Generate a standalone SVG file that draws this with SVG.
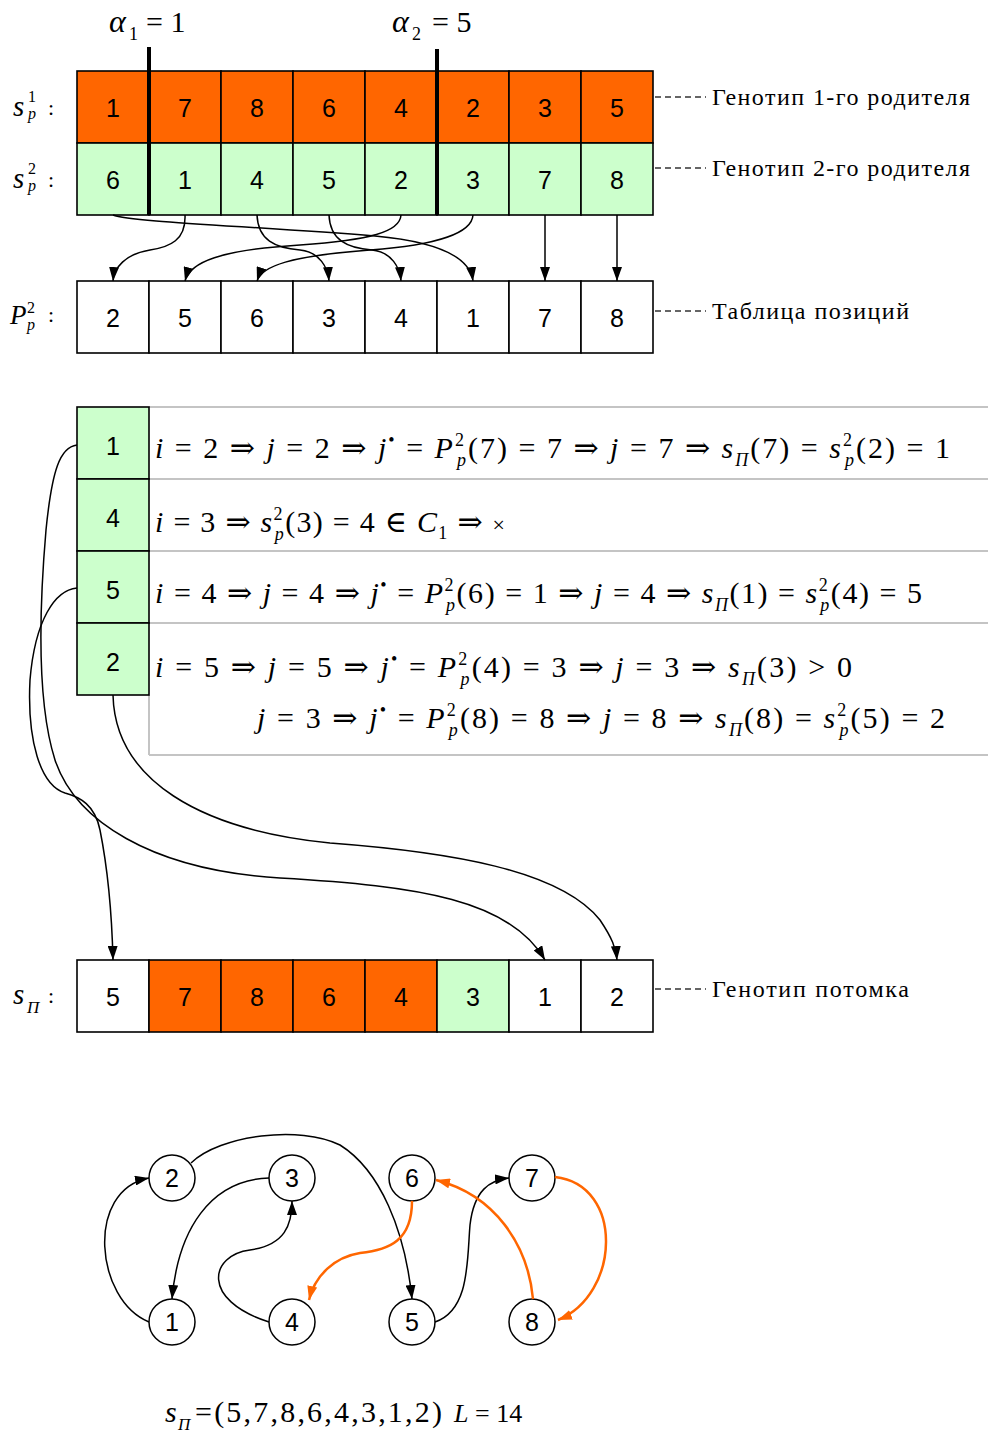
<svg xmlns="http://www.w3.org/2000/svg" width="988" height="1435" viewBox="0 0 988 1435">
<defs>
<marker id="ah" markerUnits="userSpaceOnUse" markerWidth="14" markerHeight="10" refX="14" refY="5" orient="auto" viewBox="0 0 14 10"><path d="M0,0 L14,5 L0,10 z" fill="#000"/></marker>
<marker id="aho" markerUnits="userSpaceOnUse" markerWidth="14" markerHeight="10" refX="14" refY="5" orient="auto" viewBox="0 0 14 10"><path d="M0,0 L14,5 L0,10 z" fill="#FF6600"/></marker>
</defs>
<style>
.c{stroke:#000;stroke-width:1.6}
.o{fill:#FF6600}.g{fill:#CCFFCC}.w{fill:#fff}
.d{font-family:'Liberation Sans',Arial,sans-serif;font-size:25px;text-anchor:middle;fill:#000}
.m{font-family:'Liberation Serif','DejaVu Serif',serif;font-size:30px;fill:#000}
.it{font-style:italic}
.sc{font-size:18px}
.lbl{font-family:'Liberation Serif','DejaVu Serif',serif;font-size:24px;fill:#000}
.dash{stroke:#333;stroke-width:1.5;stroke-dasharray:6,4}
.conn{fill:none;stroke:#000;stroke-width:1.5;marker-end:url(#ah)}
.oconn{fill:none;stroke:#FF6600;stroke-width:2.5;marker-end:url(#aho)}
.tbl{stroke:#c4c4c4;stroke-width:2;fill:none}
.node{fill:#fff;stroke:#000;stroke-width:1.5}
.bar{stroke:#000;stroke-width:4}
</style>
<rect x="0" y="0" width="988" height="1435" fill="#fff"/>

<!-- crossover labels -->
<g id="alpha1"><text class="m it" x="109" y="32" style="font-size:32px">α</text><text class="m" x="129" y="40" style="font-size:18px">1</text><text class="m" x="146" y="32">= 1</text></g>
<g id="alpha2"><text class="m it" x="392" y="32" style="font-size:32px">α</text><text class="m" x="412" y="40" style="font-size:18px">2</text><text class="m" x="432" y="32">= 5</text></g>

<!-- row labels -->
<g id="lab-s1"><text class="m it" x="13" y="116" style="font-size:29px">s</text><text class="m" x="28" y="102" style="font-size:16px">1</text><text class="m it" x="28" y="119" style="font-size:16px">p</text><text class="m" x="48" y="115" style="font-size:22px">:</text></g>
<g id="lab-s2"><text class="m it" x="13" y="188" style="font-size:29px">s</text><text class="m" x="28" y="174" style="font-size:16px">2</text><text class="m it" x="28" y="191" style="font-size:16px">p</text><text class="m" x="48" y="187" style="font-size:22px">:</text></g>
<g id="lab-P"><text class="m it" x="10" y="324" style="font-size:27px">P</text><text class="m" x="27" y="313" style="font-size:16px">2</text><text class="m it" x="27" y="330" style="font-size:16px">p</text><text class="m" x="48" y="322" style="font-size:22px">:</text></g>
<g id="lab-sp"><text class="m it" x="13" y="1004" style="font-size:29px">s</text><text class="m it" x="27" y="1013" style="font-size:17px">П</text><text class="m" x="48" y="1003" style="font-size:22px">:</text></g>

<!-- parent 1 -->
<g id="s1">
<g id="s1-1"><rect class="c o" x="77" y="71" width="72" height="72"/><text class="d" x="113" y="117">1</text></g>
<g id="s1-2"><rect class="c o" x="149" y="71" width="72" height="72"/><text class="d" x="185" y="117">7</text></g>
<g id="s1-3"><rect class="c o" x="221" y="71" width="72" height="72"/><text class="d" x="257" y="117">8</text></g>
<g id="s1-4"><rect class="c o" x="293" y="71" width="72" height="72"/><text class="d" x="329" y="117">6</text></g>
<g id="s1-5"><rect class="c o" x="365" y="71" width="72" height="72"/><text class="d" x="401" y="117">4</text></g>
<g id="s1-6"><rect class="c o" x="437" y="71" width="72" height="72"/><text class="d" x="473" y="117">2</text></g>
<g id="s1-7"><rect class="c o" x="509" y="71" width="72" height="72"/><text class="d" x="545" y="117">3</text></g>
<g id="s1-8"><rect class="c o" x="581" y="71" width="72" height="72"/><text class="d" x="617" y="117">5</text></g>
</g>
<!-- parent 2 -->
<g id="s2">
<g id="s2-1"><rect class="c g" x="77" y="143" width="72" height="72"/><text class="d" x="113" y="189">6</text></g>
<g id="s2-2"><rect class="c g" x="149" y="143" width="72" height="72"/><text class="d" x="185" y="189">1</text></g>
<g id="s2-3"><rect class="c g" x="221" y="143" width="72" height="72"/><text class="d" x="257" y="189">4</text></g>
<g id="s2-4"><rect class="c g" x="293" y="143" width="72" height="72"/><text class="d" x="329" y="189">5</text></g>
<g id="s2-5"><rect class="c g" x="365" y="143" width="72" height="72"/><text class="d" x="401" y="189">2</text></g>
<g id="s2-6"><rect class="c g" x="437" y="143" width="72" height="72"/><text class="d" x="473" y="189">3</text></g>
<g id="s2-7"><rect class="c g" x="509" y="143" width="72" height="72"/><text class="d" x="545" y="189">7</text></g>
<g id="s2-8"><rect class="c g" x="581" y="143" width="72" height="72"/><text class="d" x="617" y="189">8</text></g>
</g>
<g id="cutpoints"><line class="bar" x1="149" y1="47" x2="149" y2="215"/><line class="bar" x1="437" y1="49" x2="437" y2="215"/></g>

<!-- position table -->
<g id="P">
<g id="P-1"><rect class="c w" x="77" y="281" width="72" height="72"/><text class="d" x="113" y="327">2</text></g>
<g id="P-2"><rect class="c w" x="149" y="281" width="72" height="72"/><text class="d" x="185" y="327">5</text></g>
<g id="P-3"><rect class="c w" x="221" y="281" width="72" height="72"/><text class="d" x="257" y="327">6</text></g>
<g id="P-4"><rect class="c w" x="293" y="281" width="72" height="72"/><text class="d" x="329" y="327">3</text></g>
<g id="P-5"><rect class="c w" x="365" y="281" width="72" height="72"/><text class="d" x="401" y="327">4</text></g>
<g id="P-6"><rect class="c w" x="437" y="281" width="72" height="72"/><text class="d" x="473" y="327">1</text></g>
<g id="P-7"><rect class="c w" x="509" y="281" width="72" height="72"/><text class="d" x="545" y="327">7</text></g>
<g id="P-8"><rect class="c w" x="581" y="281" width="72" height="72"/><text class="d" x="617" y="327">8</text></g>
</g>

<!-- side labels -->
<g id="note1"><line class="dash" x1="655" y1="97" x2="706" y2="97"/><text class="lbl" x="712" y="105" textLength="258" lengthAdjust="spacing">Генотип 1-го родителя</text></g>
<g id="note2"><line class="dash" x1="655" y1="168" x2="706" y2="168"/><text class="lbl" x="712" y="176" textLength="258" lengthAdjust="spacing">Генотип 2-го родителя</text></g>
<g id="note3"><line class="dash" x1="655" y1="311" x2="706" y2="311"/><text class="lbl" x="712" y="319" textLength="197" lengthAdjust="spacing">Таблица позиций</text></g>
<g id="note4"><line class="dash" x1="655" y1="989" x2="706" y2="989"/><text class="lbl" x="712" y="997" textLength="197" lengthAdjust="spacing">Генотип потомка</text></g>

<!-- formula table -->
<g id="table">
<path class="tbl" d="M149,407 H988 M149,479 H988 M149,551 H988 M149,623 H988 M149,755 H988 M149,695 V755"/>
</g>
<g id="green">
<g id="gc-1"><rect class="c g" x="77" y="407" width="72" height="72"/><text class="d" x="113" y="455">1</text></g>
<g id="gc-2"><rect class="c g" x="77" y="479" width="72" height="72"/><text class="d" x="113" y="527">4</text></g>
<g id="gc-3"><rect class="c g" x="77" y="551" width="72" height="72"/><text class="d" x="113" y="599">5</text></g>
<g id="gc-4"><rect class="c g" x="77" y="623" width="72" height="72"/><text class="d" x="113" y="671">2</text></g>
</g>
<g id="formulas">
<text class="m" x="155" y="458" textLength="795" lengthAdjust="spacing"><tspan class="it">i</tspan> = 2 ⇒ <tspan class="it">j</tspan> = 2 ⇒ <tspan class="it">j</tspan><tspan class="sc" dy="-12">•</tspan><tspan dy="12"> = </tspan><tspan class="it">P</tspan><tspan class="sc" dy="-12">2</tspan><tspan class="sc it" dx="-9" dy="20">p</tspan><tspan dy="-8">(7) = 7 ⇒ </tspan><tspan class="it">j</tspan> = 7 ⇒ <tspan class="it">s</tspan><tspan class="sc it" dy="8">П</tspan><tspan dy="-8">(7) = </tspan><tspan class="it">s</tspan><tspan class="sc" dy="-12">2</tspan><tspan class="sc it" dx="-9" dy="20">p</tspan><tspan dy="-8">(2) = 1</tspan></text>
<text class="m" x="155" y="532" textLength="350" lengthAdjust="spacing"><tspan class="it">i</tspan> = 3 ⇒ <tspan class="it">s</tspan><tspan class="sc" dy="-12">2</tspan><tspan class="sc it" dx="-9" dy="20">p</tspan><tspan dy="-8">(3) = 4 ∈ </tspan><tspan class="it">C</tspan><tspan class="sc" dy="7">1</tspan><tspan dy="-7"> ⇒ </tspan><tspan style="font-size:22px">×</tspan></text>
<text class="m" x="155" y="603" textLength="767" lengthAdjust="spacing"><tspan class="it">i</tspan> = 4 ⇒ <tspan class="it">j</tspan> = 4 ⇒ <tspan class="it">j</tspan><tspan class="sc" dy="-12">•</tspan><tspan dy="12"> = </tspan><tspan class="it">P</tspan><tspan class="sc" dy="-12">2</tspan><tspan class="sc it" dx="-9" dy="20">p</tspan><tspan dy="-8">(6) = 1 ⇒ </tspan><tspan class="it">j</tspan> = 4 ⇒ <tspan class="it">s</tspan><tspan class="sc it" dy="8">П</tspan><tspan dy="-8">(1) = </tspan><tspan class="it">s</tspan><tspan class="sc" dy="-12">2</tspan><tspan class="sc it" dx="-9" dy="20">p</tspan><tspan dy="-8">(4) = 5</tspan></text>
<text class="m" x="155" y="677" textLength="697" lengthAdjust="spacing"><tspan class="it">i</tspan> = 5 ⇒ <tspan class="it">j</tspan> = 5 ⇒ <tspan class="it">j</tspan><tspan class="sc" dy="-12">•</tspan><tspan dy="12"> = </tspan><tspan class="it">P</tspan><tspan class="sc" dy="-12">2</tspan><tspan class="sc it" dx="-9" dy="20">p</tspan><tspan dy="-8">(4) = 3 ⇒ </tspan><tspan class="it">j</tspan> = 3 ⇒ <tspan class="it">s</tspan><tspan class="sc it" dy="8">П</tspan><tspan dy="-8">(3) &gt; 0</tspan></text>
<text class="m" x="257" y="728" textLength="688" lengthAdjust="spacing"><tspan class="it">j</tspan> = 3 ⇒ <tspan class="it">j</tspan><tspan class="sc" dy="-12">•</tspan><tspan dy="12"> = </tspan><tspan class="it">P</tspan><tspan class="sc" dy="-12">2</tspan><tspan class="sc it" dx="-9" dy="20">p</tspan><tspan dy="-8">(8) = 8 ⇒ </tspan><tspan class="it">j</tspan> = 8 ⇒ <tspan class="it">s</tspan><tspan class="sc it" dy="8">П</tspan><tspan dy="-8">(8) = </tspan><tspan class="it">s</tspan><tspan class="sc" dy="-12">2</tspan><tspan class="sc it" dx="-9" dy="20">p</tspan><tspan dy="-8">(5) = 2</tspan></text>
</g>

<!-- offspring -->
<g id="child">
<g id="ch-1"><rect class="c w" x="77" y="960" width="72" height="72"/><text class="d" x="113" y="1006">5</text></g>
<g id="ch-2"><rect class="c o" x="149" y="960" width="72" height="72"/><text class="d" x="185" y="1006">7</text></g>
<g id="ch-3"><rect class="c o" x="221" y="960" width="72" height="72"/><text class="d" x="257" y="1006">8</text></g>
<g id="ch-4"><rect class="c o" x="293" y="960" width="72" height="72"/><text class="d" x="329" y="1006">6</text></g>
<g id="ch-5"><rect class="c o" x="365" y="960" width="72" height="72"/><text class="d" x="401" y="1006">4</text></g>
<g id="ch-6"><rect class="c g" x="437" y="960" width="72" height="72"/><text class="d" x="473" y="1006">3</text></g>
<g id="ch-7"><rect class="c w" x="509" y="960" width="72" height="72"/><text class="d" x="545" y="1006">1</text></g>
<g id="ch-8"><rect class="c w" x="581" y="960" width="72" height="72"/><text class="d" x="617" y="1006">2</text></g>
</g>

<!-- graph nodes -->
<g id="graph-nodes">
<g id="n2"><circle class="node" cx="172" cy="1178" r="23"/><text class="d" x="172" y="1187">2</text></g>
<g id="n3"><circle class="node" cx="292" cy="1178" r="23"/><text class="d" x="292" y="1187">3</text></g>
<g id="n6"><circle class="node" cx="412" cy="1178" r="23"/><text class="d" x="412" y="1187">6</text></g>
<g id="n7"><circle class="node" cx="532" cy="1178" r="23"/><text class="d" x="532" y="1187">7</text></g>
<g id="n1"><circle class="node" cx="172" cy="1322" r="23"/><text class="d" x="172" y="1331">1</text></g>
<g id="n4"><circle class="node" cx="292" cy="1322" r="23"/><text class="d" x="292" y="1331">4</text></g>
<g id="n5"><circle class="node" cx="412" cy="1322" r="23"/><text class="d" x="412" y="1331">5</text></g>
<g id="n8"><circle class="node" cx="532" cy="1322" r="23"/><text class="d" x="532" y="1331">8</text></g>
</g>

<!-- connectors -->
<g id="connectors">
<path class="conn" d="M113,215 C130,222 250,226 375,236 C440,242 470,258 473,281"/>
<path class="conn" d="M185,215 C186,240 170,247 150,250 C125,254 114,268 113,281"/>
<path class="conn" d="M257,215 C258,240 275,248 300,250 C320,252 328,268 329,281"/>
<path class="conn" d="M329,215 C330,240 347,248 372,250 C392,252 400,268 401,281"/>
<path class="conn" d="M401,215 C400,232 370,240 300,245 C220,250 190,262 185,281"/>
<path class="conn" d="M473,215 C472,232 440,245 370,250 C290,256 262,266 257,281"/>
<path class="conn" d="M545,215 V281"/>
<path class="conn" d="M617,215 V281"/>
<path class="conn" d="M77,445 C60,447 52,470 46,530 C40,600 36,700 55,760 C75,820 150,870 280,878 C420,886 510,900 545,960"/>
<path class="conn" d="M77,588 C55,590 35,620 30,680 C27,740 40,785 65,793 C80,797 95,805 100,830 C108,870 112,920 113,960"/>
<path class="conn" d="M113,695 C115,780 200,830 330,843 C450,852 560,870 600,920 C612,938 616,948 617,960"/>
<path class="conn" d="M149,1322 C95,1300 85,1190 149,1178"/>
<path class="conn" d="M191,1163 C220,1135 300,1125 340,1145 C380,1170 405,1230 412,1299"/>
<path class="conn" d="M269,1178 C210,1180 178,1230 172,1299"/>
<path class="conn" d="M269,1322 C200,1300 210,1255 250,1250 C285,1245 292,1225 292,1201"/>
<path class="conn" d="M435,1322 C470,1310 467,1260 470,1225 C474,1190 490,1180 509,1178"/>
<path class="oconn" d="M412,1201 C412,1240 390,1250 360,1253 C335,1257 315,1275 309,1300"/>
<path class="oconn" d="M533,1299 C528,1245 495,1195 436,1180"/>
<path class="oconn" d="M555,1177 C625,1185 620,1295 558,1320"/>
</g>

<!-- result -->
<g id="result">
<text class="m it" x="165" y="1422" style="font-size:30px">s</text>
<text class="m it" x="178" y="1430" style="font-size:17px">П</text>
<text class="m" x="195" y="1422" textLength="247" lengthAdjust="spacing">=(5,7,8,6,4,3,1,2)</text>
<text class="m" x="454" y="1422" style="font-size:26px"><tspan class="it">L</tspan> = 14</text>
</g>
</svg>
